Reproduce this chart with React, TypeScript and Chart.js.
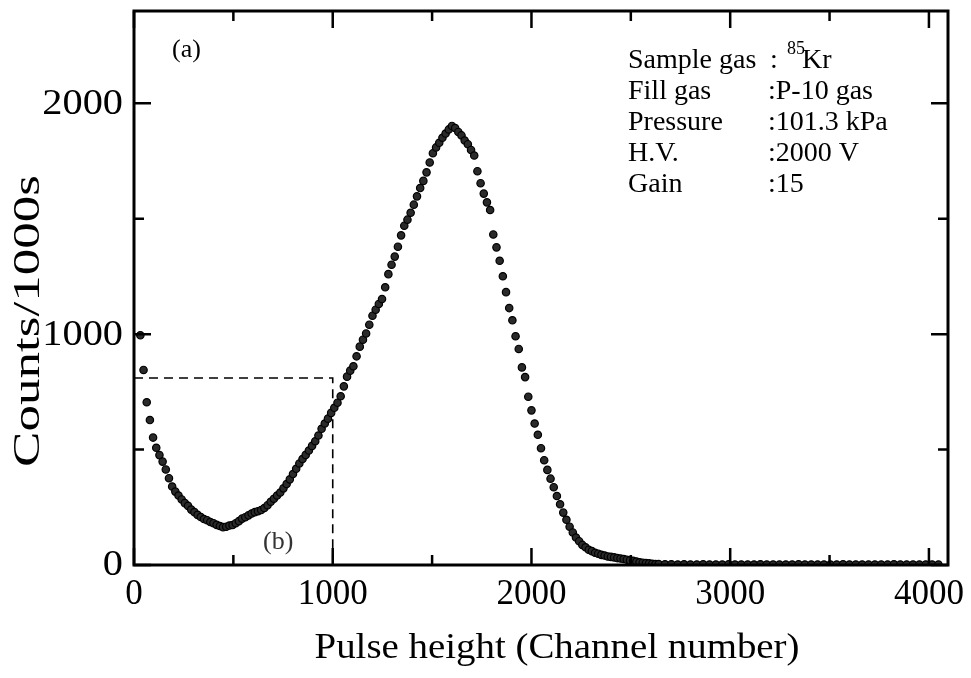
import { useEffect, useRef } from "react";
import { Chart, registerables } from "chart.js";

Chart.register(...registerables);

// ---- data ----
const xTickValues = [0, 1000, 2000, 3000, 4000];
const xMinorTickValues = [500, 1500, 2500, 3500];
const yTickValues = [0, 1000, 2000];
const yMinorTickValues = [500, 1500];
const xMin = 0;
const xMax = 4096;
const yMin = 0;
const yMax = 2400;
const zoomBoxChannel = 1000; // right edge of region (b)
const zoomBoxCounts = 810; // top edge of region (b)

const xTitle = "Pulse height (Channel number)";
const yTitle = "Counts/1000s";
const panelLabel = "(a)";
const zoomLabel = "(b)";
const infoNames = ["Sample gas", "Fill gas", "Pressure", "H.V.", "Gain"];
const infoValues = ["Kr", "P-10 gas", "101.3 kPa", "2000 V", "15"];
const isotopeMass = "85";

// pulse-height spectrum: [channel, counts per 1000 s]
const spectrum: [number, number][] = [
  [32, 995], [48, 845], [64, 705], [80, 628], [96, 552], [112, 508], [128, 476], [144, 448],
  [160, 414], [176, 376], [192, 340], [208, 318], [224, 301], [240, 284], [256, 268], [272, 256],
  [288, 240], [304, 229], [320, 217], [336, 208], [352, 199], [368, 194], [384, 186], [400, 181],
  [416, 174], [432, 169], [448, 164], [464, 166], [480, 171], [496, 173], [512, 181], [528, 190],
  [544, 201], [560, 207], [576, 215], [592, 223], [608, 229], [624, 233], [640, 238], [656, 247],
  [672, 259], [688, 274], [704, 287], [720, 301], [736, 314], [752, 332], [768, 351], [784, 371],
  [800, 394], [816, 417], [832, 440], [848, 459], [864, 477], [880, 496], [896, 516], [912, 536],
  [928, 561], [944, 590], [960, 613], [976, 634], [992, 659], [1008, 681], [1024, 703], [1040, 731],
  [1056, 774], [1072, 816], [1088, 842], [1104, 861], [1120, 904], [1136, 946], [1152, 976], [1168, 1003],
  [1184, 1041], [1200, 1080], [1216, 1106], [1232, 1131], [1248, 1152], [1264, 1203], [1280, 1260], [1296, 1301],
  [1312, 1336], [1328, 1379], [1344, 1428], [1360, 1470], [1376, 1496], [1392, 1526], [1408, 1561], [1424, 1597],
  [1440, 1633], [1456, 1664], [1472, 1701], [1488, 1744], [1504, 1784], [1520, 1809], [1536, 1829], [1552, 1851],
  [1568, 1869], [1584, 1887], [1600, 1902], [1616, 1893], [1632, 1876], [1648, 1861], [1664, 1839], [1680, 1823],
  [1696, 1798], [1712, 1774], [1728, 1706], [1744, 1654], [1760, 1609], [1776, 1571], [1792, 1538], [1808, 1432],
  [1824, 1376], [1840, 1318], [1856, 1251], [1872, 1182], [1888, 1113], [1904, 1060], [1920, 991], [1936, 936],
  [1952, 856], [1968, 814], [1984, 729], [2000, 670], [2016, 613], [2032, 564], [2048, 506], [2064, 454],
  [2080, 412], [2096, 374], [2112, 337], [2128, 299], [2144, 263], [2160, 227], [2176, 196], [2192, 166],
  [2208, 141], [2224, 119], [2240, 103], [2256, 87], [2272, 77], [2288, 66], [2304, 60], [2320, 53],
  [2336, 49], [2352, 44], [2368, 41], [2384, 37], [2400, 35], [2416, 33], [2432, 30], [2448, 28],
  [2464, 26], [2480, 23], [2496, 20], [2512, 18], [2528, 15], [2544, 12], [2560, 10], [2576, 8],
  [2592, 7], [2608, 5], [2624, 4], [2640, 4],
  [2672, 3], [2704, 3], [2736, 2], [2768, 3], [2800, 2], [2832, 2], [2864, 3], [2896, 2],
  [2928, 2], [2960, 2], [2992, 3], [3024, 2], [3056, 2], [3088, 2], [3120, 2], [3152, 3],
  [3184, 2], [3216, 2], [3248, 2], [3280, 2], [3312, 2], [3344, 3], [3376, 2], [3408, 2],
  [3440, 2], [3472, 2], [3504, 2], [3536, 2], [3568, 3], [3600, 2], [3632, 2], [3664, 2],
  [3696, 2], [3728, 2], [3760, 2], [3792, 2], [3824, 3], [3856, 2], [3888, 2], [3920, 2],
  [3952, 2], [3984, 2], [4016, 2], [4048, 2],
];

const SERIF = "'Liberation Serif', 'Times New Roman', serif";

function stretchedText(
  ctx: CanvasRenderingContext2D,
  text: string,
  x: number,
  y: number,
  scaleX: number,
  align: CanvasTextAlign,
  rotate = false
) {
  ctx.save();
  ctx.translate(x, y);
  if (rotate) ctx.rotate(-Math.PI / 2);
  ctx.scale(scaleX, 1);
  ctx.textAlign = align;
  ctx.textBaseline = "middle";
  ctx.fillText(text, 0, 0);
  ctx.restore();
}

const framePlugin = {
  id: "framePlugin",
  beforeDatasetsDraw(chart: any) {
    const { ctx } = chart;
    const xs = chart.scales.x;
    const ys = chart.scales.y;
    const x0 = xs.getPixelForValue(0);
    const x1 = xs.getPixelForValue(zoomBoxChannel);
    const y0 = ys.getPixelForValue(0);
    const y1 = ys.getPixelForValue(zoomBoxCounts);
    ctx.save();
    ctx.strokeStyle = "#000";
    ctx.lineWidth = 1.6;
    ctx.setLineDash([9, 6]);
    ctx.beginPath();
    ctx.moveTo(x0, y1);
    ctx.lineTo(x1, y1);
    ctx.lineTo(x1, y0);
    ctx.stroke();
    ctx.restore();
  },
  afterDraw(chart: any) {
    const { ctx, chartArea } = chart;
    const { left, right, top, bottom } = chartArea;
    const xs = chart.scales.x;
    const ys = chart.scales.y;
    ctx.save();
    ctx.strokeStyle = "#000";
    ctx.lineWidth = 3;
    ctx.strokeRect(left, top, right - left, bottom - top);

    ctx.lineWidth = 2.5;
    const majorLen = 17;
    const minorLen = 10;
    const drawX = (v: number, len: number) => {
      const p = xs.getPixelForValue(v);
      ctx.beginPath();
      ctx.moveTo(p, bottom);
      ctx.lineTo(p, bottom - len);
      ctx.moveTo(p, top);
      ctx.lineTo(p, top + len);
      ctx.stroke();
    };
    const drawY = (v: number, len: number) => {
      const p = ys.getPixelForValue(v);
      ctx.beginPath();
      ctx.moveTo(left, p);
      ctx.lineTo(left + len, p);
      ctx.moveTo(right, p);
      ctx.lineTo(right - len, p);
      ctx.stroke();
    };
    xTickValues.forEach((v) => drawX(v, majorLen));
    xMinorTickValues.forEach((v) => drawX(v, minorLen));
    yTickValues.forEach((v) => drawY(v, majorLen));
    yMinorTickValues.forEach((v) => drawY(v, minorLen));

    ctx.fillStyle = "#000";
    // tick labels
    ctx.font = `35px ${SERIF}`;
    xTickValues.forEach((v) => {
      stretchedText(ctx, String(v), xs.getPixelForValue(v), bottom + 30, 1, "center");
    });
    ctx.font = `36px ${SERIF}`;
    yTickValues.forEach((v) => {
      stretchedText(ctx, String(v), left - 11, ys.getPixelForValue(v) + 1, 1.12, "right");
    });

    // axis titles
    ctx.font = `36px ${SERIF}`;
    const xw = ctx.measureText(xTitle).width;
    stretchedText(ctx, xTitle, 557, 649, 485 / xw, "center");
    ctx.font = `38px ${SERIF}`;
    const yw = ctx.measureText(yTitle).width;
    stretchedText(ctx, yTitle, 29, 321, 292 / yw, "center", true);

    // panel labels
    ctx.font = `26px ${SERIF}`;
    ctx.textAlign = "left";
    ctx.textBaseline = "alphabetic";
    ctx.fillText(panelLabel, 172, 57);
    ctx.fillStyle = "#333";
    ctx.font = `26px ${SERIF}`;
    ctx.fillText(zoomLabel, 263, 549);

    // info block
    ctx.fillStyle = "#000";
    const nameX = 628;
    const colonX = 768;
    const rowStart = 68;
    const rowStep = 31;
    infoNames.forEach((name, i) => {
      const y = rowStart + i * rowStep;
      ctx.font = `28px ${SERIF}`;
      ctx.fillText(name, nameX, y);
      if (i === 0) {
        ctx.fillText(":", colonX + 2, y);
        ctx.font = `18px ${SERIF}`;
        ctx.fillText(isotopeMass, colonX + 19, y - 14);
        ctx.font = `28px ${SERIF}`;
        ctx.fillText(infoValues[i], colonX + 34, y);
      } else {
        ctx.fillText(":" + infoValues[i], colonX, y);
      }
    });
    ctx.restore();
  },
};

export default function App() {
  const canvasRef = useRef<HTMLCanvasElement | null>(null);

  useEffect(() => {
    const canvas = canvasRef.current;
    if (!canvas) return;
    const chart = new Chart(canvas, {
      type: "scatter",
      data: {
        datasets: [
          {
            data: spectrum.map(([x, y]) => ({ x, y })),
            backgroundColor: "#2a2a2a",
            borderColor: "#000",
            borderWidth: 1.2,
            pointRadius: 3.7,
            pointHoverRadius: 3.7,
          },
        ],
      },
      options: {
        responsive: false,
        animation: false,
        events: [],
        layout: { padding: { top: 11, right: 23, left: 0, bottom: 0 } },
        plugins: { legend: { display: false }, tooltip: { enabled: false }, title: { display: false } },
        scales: {
          x: {
            type: "linear",
            min: xMin,
            max: xMax,
            grid: { display: false, drawTicks: false },
            border: { display: false },
            ticks: { display: false },
            afterFit: (s: any) => {
              s.height = 113;
            },
          },
          y: {
            type: "linear",
            min: yMin,
            max: yMax,
            grid: { display: false, drawTicks: false },
            border: { display: false },
            ticks: { display: false },
            afterFit: (s: any) => {
              s.width = 134;
            },
          },
        },
      },
      plugins: [framePlugin],
    });
    return () => chart.destroy();
  }, []);

  return (
    <div style={{ position: "absolute", left: 0, top: 0, width: 971, height: 678, background: "#fff" }}>
      <canvas ref={canvasRef} width={971} height={678} />
    </div>
  );
}
